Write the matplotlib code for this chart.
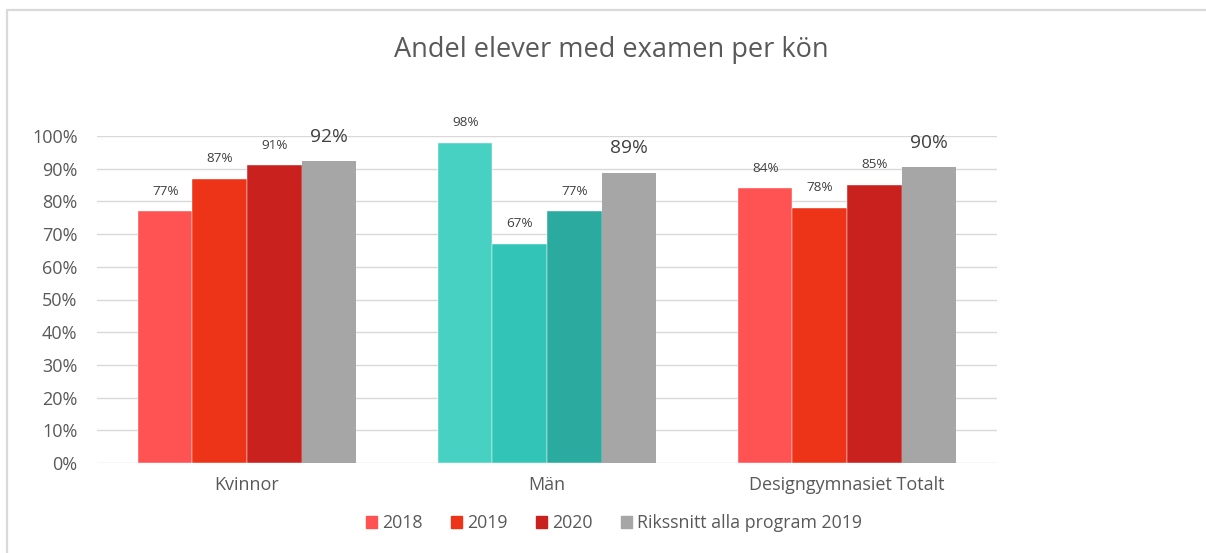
import numpy as np
import matplotlib.pyplot as plt
from matplotlib.lines import Line2D
from matplotlib.patches import Patch

plt.rcParams['font.family'] = ['Open Sans', 'DejaVu Sans']

categories = ['Kvinnor', 'Män', 'Designgymnasiet Totalt']
series = ['2018', '2019', '2020', 'Rikssnitt alla program 2019']
v2018 = [0.77, 0.98, 0.84]
v2019 = [0.87, 0.67, 0.78]
v2020 = [0.91, 0.77, 0.85]
riks = [0.924, 0.888, 0.904]

red_cols = ['#FF5252', '#EE3418', '#C9211E']
teal_cols = ['#47D1C2', '#32C5B7', '#2BAA9F']
gray = '#A6A6A6'

W, H = 1206, 553
fig = plt.figure(figsize=(W / 100, H / 100), dpi=100)
ax = fig.add_axes([97 / W, 1 - 463 / H, 900 / W, 327 / H])

# outer chart frame: only top and left edges show
fig.lines.append(Line2D([7 / W, 7 / W, 1.0], [0, 1 - 9.5 / H, 1 - 9.5 / H],
                        transform=fig.transFigure, color='#D9D9D9', lw=1.6))

x = np.arange(len(categories))
w = 0.1817
offs = [-1.5 * w, -0.5 * w, 0.5 * w, 1.5 * w]
data = [v2018, v2019, v2020]

for j, vals in enumerate(data):
    cols = [red_cols[j], teal_cols[j], red_cols[j]]
    bars = ax.bar(x + offs[j], vals, w, color=cols, zorder=3,
                  edgecolor='white', linewidth=0.3)
    for b, v in zip(bars, vals):
        ax.annotate(f'{v * 100:.0f}%', (b.get_x() + w / 2, v),
                    xytext=(0, 14.5), textcoords='offset points',
                    ha='center', va='center', fontsize=9.7, color='#404040')

bars = ax.bar(x + offs[3], riks, w, color=gray, zorder=3)
for b, v in zip(bars, riks):
    ax.annotate(f'{v * 100:.0f}%', (b.get_x() + w / 2, v),
                xytext=(0, 17.5), textcoords='offset points',
                ha='center', va='center', fontsize=13.8, color='#404040')

ax.set_xlim(-0.5, 2.5)
ax.set_ylim(0, 1.0)
ax.set_yticks(np.arange(0, 1.01, 0.1))
ax.set_yticklabels([f'{t * 10}%' for t in range(11)])
ax.set_xticks(x)
ax.set_xticklabels(categories)
ax.tick_params(axis='y', length=0, pad=14, labelsize=13, labelcolor='#595959')
ax.tick_params(axis='x', length=0, pad=9, labelsize=13, labelcolor='#595959')
ax.grid(axis='y', color='#D9D9D9', lw=1.0, zorder=0)
for s in ax.spines.values():
    s.set_visible(False)

fig.text(611 / W, 1 - 50 / H, 'Andel elever med examen per kön',
         ha='center', va='center', fontsize=19.5, color='#595959')

handles = [Patch(color=c) for c in red_cols + [gray]]
fig.legend(handles, series, loc='center', bbox_to_anchor=(614 / W, 1 - 523 / H),
           ncol=4, frameon=False, fontsize=12.8, handlelength=0.6, handleheight=0.7,
           handletextpad=0.3, columnspacing=1.6, labelcolor='#595959')

fig.savefig('out.png', dpi=100)
